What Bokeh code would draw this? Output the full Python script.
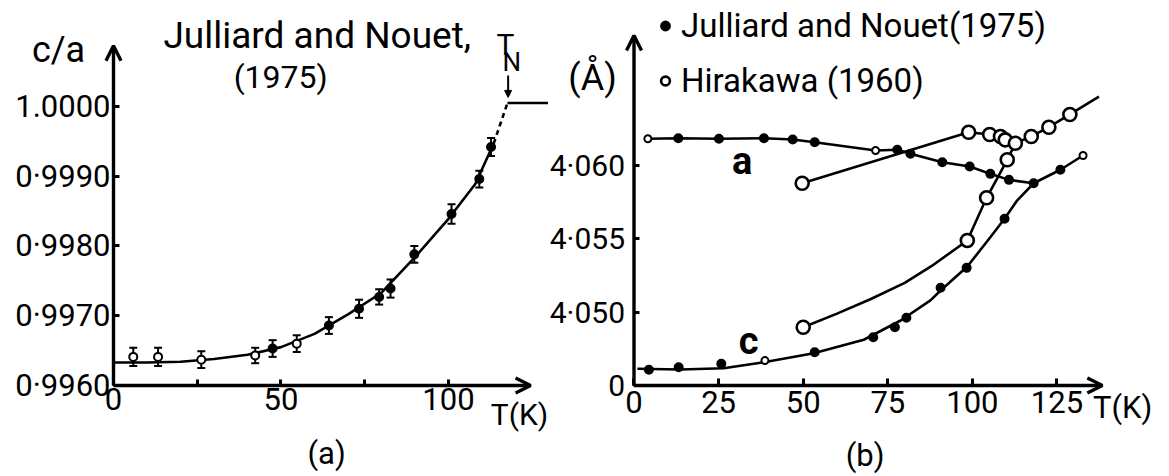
from bokeh.plotting import figure
from bokeh.layouts import row
from bokeh.models import (ColumnDataSource, Range1d, LinearAxis, FixedTicker, Arrow, OpenHead,
                          NormalHead, TeeHead, Whisker, Label, Legend, LegendItem)
from bokeh.core.properties import value
from bokeh.embed import file_html
from bokeh.resources import INLINE

FONT = "Roboto"

# ---------------- panel (a): c/a versus T ----------------
ca_T = [5.9, 13.3, 26.2, 42.3, 47.5, 54.7, 64.3, 73.3, 79.3, 82.7, 89.8, 100.9, 109.2, 112.7]
ca_val = [0.99641, 0.99641, 0.99637, 0.99643, 0.99653, 0.99660, 0.99686, 0.99710,
          0.99727, 0.99739, 0.99788, 0.99846, 0.99896, 0.99942]
ca_err = [0.00013, 0.00013, 0.00012, 0.00011, 0.00012, 0.00012, 0.00012, 0.00013,
          0.00011, 0.00013, 0.00012, 0.00014, 0.00012, 0.00013]
ca_open = [1, 1, 1, 1, 0, 1, 0, 0, 0, 0, 0, 0, 0, 0]
ca_fit_T = [0, 10, 20, 30, 40, 50, 60, 70, 80, 90, 100, 108, 113.5]
ca_fit = [0.99633, 0.99633, 0.99634, 0.99638, 0.99644, 0.99655, 0.99674, 0.99702,
          0.99733, 0.99784, 0.99839, 0.99889, 0.99947]
ca_dash_T = [113.5, 117.6]
ca_dash = [0.99947, 1.00005]
ca_cubic_T = [117.6, 134.0]
ca_cubic = [1.00005, 1.00005]
ca_xticks = [0, 25, 50, 75, 100]
ca_xlabels = ["0", "", "50", "", "100"]
ca_yticks = [0.996, 0.997, 0.998, 0.999, 1.0]
ca_ylabels = ["0·9960", "0·9970", "0·9980", "0·9990", "1.0000"]

# ---------------- panel (b): lattice parameters (Å) versus T ----------------
# Julliard and Nouet (1975), a parameter (merges with c above T_N)
ja_T = [4.1, 13.1, 25.1, 38.4, 46.9, 53.4, 71.4, 77.8, 81.7, 91.1, 99.2, 105.3, 110.8,
        118.1, 126.0, 132.7]
ja_v = [4.06182, 4.06186, 4.06182, 4.06186, 4.06177, 4.06159, 4.06102, 4.06107, 4.06080,
        4.06022, 4.05993, 4.05943, 4.05902, 4.05879, 4.05971, 4.06068]
ja_open = [1, 0, 0, 0, 0, 0, 1, 0, 0, 0, 0, 0, 0, 0, 0, 1]
# Julliard and Nouet (1975), c parameter
jc_T = [4.4, 13.2, 25.8, 38.7, 53.4, 70.7, 77.1, 80.5, 90.6, 98.3, 109.5]
jc_v = [4.04607, 4.04625, 4.04648, 4.04670, 4.04727, 4.04829, 4.04897, 4.04962,
        4.05166, 4.05302, 4.05637]
jc_open = [0, 0, 0, 1, 0, 0, 0, 0, 0, 0, 0]
jc_fit_T = [1.0, 13.7, 26.5, 38.4, 53.1, 67.9, 78.8, 87.6, 90.6, 98.5, 105.3, 109.5, 113.2, 118.1]
jc_fit = [4.04614, 4.04609, 4.04618, 4.04659, 4.04720, 4.04812, 4.04943, 4.05080,
          4.05148, 4.05311, 4.05511, 4.05637, 4.05761, 4.05879]
# Hirakawa (1960)
ha_T = [49.7, 98.9, 105.1, 108.3, 109.7, 112.7, 117.4, 122.6, 128.8]
ha_v = [4.05879, 4.06227, 4.06211, 4.06198, 4.06175, 4.06152, 4.06198, 4.06261, 4.06348]
ha_line_T = ha_T + [137.4]
ha_line_v = ha_v + [4.06470]
hc_T = [50.0, 98.5, 104.2, 110.3]
hc_v = [4.04897, 4.05489, 4.05780, 4.06039]
hc_line_T = [50.0, 60.0, 70.0, 80.0, 88.0, 98.5, 104.2, 110.3, 112.7]
hc_line_v = [4.04897, 4.04990, 4.05090, 4.05200, 4.05315, 4.05489, 4.05780, 4.06039, 4.06152]
ab_xticks = [0, 25, 50, 75, 100, 125]
ab_xlabels = ["0", "25", "50", "75", "100", "125"]
ab_yticks = [4.045, 4.050, 4.055, 4.060]
ab_ylabels = ["0", "4·050", "4·055", "4·060"]

LW = 2.6
AXW = 3.4


def style_fig(p):
    p.outline_line_color = None
    p.background_fill_color = "white"
    p.border_fill_color = "white"


def make_axis(ticks, labels, loc, size, standoff, tick_in):
    ax = LinearAxis(ticker=FixedTicker(ticks=ticks),
                    major_label_overrides={t: s for t, s in zip(ticks, labels)},
                    fixed_location=loc)
    ax.axis_line_color = None
    ax.major_tick_in = tick_in
    ax.major_tick_out = 0
    ax.major_tick_line_width = 3
    ax.major_tick_line_color = "black"
    ax.minor_tick_line_color = None
    ax.major_label_text_font = FONT
    ax.major_label_text_font_size = size
    ax.major_label_text_color = "black"
    ax.major_label_standoff = standoff
    return ax


def lab(p, x, y, text, size, align="center", bold=False):
    p.add_layout(Label(x=x, y=y, text=text, text_font=FONT, text_font_size=size,
                       text_align=align, text_baseline="middle", text_color="black",
                       text_font_style="bold" if bold else "normal"))


# ---------- figure (a) ----------
pa = figure(width=548, height=476, output_backend="svg", toolbar_location=None,
            x_range=Range1d(-33.731, 129.851), y_range=Range1d(0.9946953, 1.0015197),
            x_axis_type=None, y_axis_type=None, min_border=0)
style_fig(pa)
pa.add_layout(make_axis(ca_xticks, ca_xlabels, 0.996, "31px", 3, 6), "below")
pa.add_layout(make_axis(ca_yticks, ca_ylabels, 0, "31px", 3, 6), "left")

pa.add_layout(Arrow(end=OpenHead(size=15, line_width=AXW), x_start=0, y_start=0.996,
                    x_end=124.5, y_end=0.996, line_width=AXW))
pa.add_layout(Arrow(end=OpenHead(size=15, line_width=AXW), x_start=0, y_start=0.996,
                    x_end=0, y_end=1.00087, line_width=AXW))

pa.line(ca_fit_T, ca_fit, line_width=LW, color="black")
pa.line(ca_dash_T, ca_dash, line_width=LW, color="black", line_dash="5 4")
pa.line(ca_cubic_T, ca_cubic, line_width=LW, color="black")

src_a = ColumnDataSource(dict(
    T=ca_T, v=ca_val,
    up=[v + e for v, e in zip(ca_val, ca_err)],
    lo=[v - e for v, e in zip(ca_val, ca_err)],
    fill=["white" if o else "black" for o in ca_open]))
pa.add_layout(Whisker(source=src_a, base="T", upper="up", lower="lo", dimension="height",
                      line_width=2, line_color="black",
                      upper_head=TeeHead(size=8, line_width=2),
                      lower_head=TeeHead(size=8, line_width=2)))
pa.scatter("T", "v", source=src_a, size=8, fill_color="fill", line_color="black", line_width=2)

# T_N marker
pa.add_layout(Arrow(end=NormalHead(size=7, fill_color="black", line_width=1),
                    x_start=117.8, y_start=1.000445, x_end=117.8, y_end=1.000130, line_width=2))
lab(pa, 117.0, 1.000889, "T", "30px")
lab(pa, 118.9, 1.000631, "N", "26px")
lab(pa, -16.4, 1.000803, "c/a", "36px")
lab(pa, 14.9, 1.001018, "Julliard and Nouet,", "37px", align="left")
lab(pa, 49.9, 1.00043, "(1975)", "32px")
lab(pa, 121.2, 0.995584, "T(K)", "30px")
lab(pa, 63.6, 0.995025, "(a)", "31px")

# ---------- figure (b) ----------
pb = figure(width=621, height=476, output_backend="svg", toolbar_location=None,
            x_range=Range1d(-25.266, 158.245), y_range=Range1d(4.0387956, 4.0712494),
            x_axis_type=None, y_axis_type=None, min_border=0)
style_fig(pb)
pb.add_layout(make_axis(ab_xticks, ab_xlabels, 4.045, "31px", 5, 7), "below")
pb.add_layout(make_axis(ab_yticks, ab_ylabels, 0, "30px", 9, 6), "left")

pb.add_layout(Arrow(end=OpenHead(size=15, line_width=AXW), x_start=0, y_start=4.045,
                    x_end=138.4, y_end=4.045, line_width=AXW))
pb.add_layout(Arrow(end=OpenHead(size=15, line_width=AXW), x_start=0, y_start=4.045,
                    x_end=0, y_end=4.06886, line_width=AXW))

pb.line(ja_T, ja_v, line_width=LW, color="black")
pb.line(jc_fit_T, jc_fit, line_width=LW, color="black")
pb.line(ha_line_T, ha_line_v, line_width=LW, color="black")
pb.line(hc_line_T, hc_line_v, line_width=LW, color="black")

src_ja = ColumnDataSource(dict(T=ja_T, v=ja_v,
                               fill=["white" if o else "black" for o in ja_open],
                               size=[7 if o else 8 for o in ja_open]))
src_jc = ColumnDataSource(dict(T=jc_T, v=jc_v,
                               fill=["white" if o else "black" for o in jc_open],
                               size=[7 if o else 8 for o in jc_open]))
rj = pb.scatter("T", "v", source=src_ja, size="size", fill_color="fill", line_color="black",
                line_width=2)
pb.scatter("T", "v", source=src_jc, size="size", fill_color="fill", line_color="black",
           line_width=2)
rh = pb.scatter(ha_T, ha_v, size=13, fill_color="white", line_color="black", line_width=2.6)
pb.scatter(hc_T, hc_v, size=13, fill_color="white", line_color="black", line_width=2.6)

legend = Legend(items=[LegendItem(label=value("Julliard and Nouet(1975)"), renderers=[rj], index=1),
                       LegendItem(label=value("Hirakawa (1960)"), renderers=[rh])],
                location=(106, 376), orientation="vertical", border_line_color=None,
                background_fill_alpha=0, padding=0, margin=0, spacing=16,
                glyph_width=22, glyph_height=25, label_standoff=5,
                label_text_font=FONT, label_text_font_size="33px", label_text_color="black")
pb.add_layout(legend)

lab(pb, -12.26, 4.065932, "(Å)", "36px")
lab(pb, 32.0, 4.06034, "a", "38px", bold=True)
lab(pb, 33.9, 4.04802, "c", "38px", bold=True)
lab(pb, 144.4, 4.0435, "T(K)", "31px")
lab(pb, 68.3, 4.04022, "(b)", "31px")

layout = row(pa, pb)
open("out.html", "w").write(file_html(layout, INLINE))
